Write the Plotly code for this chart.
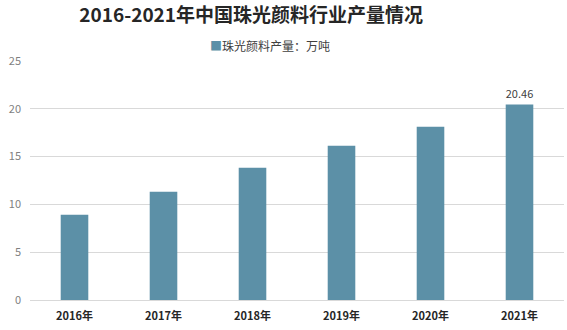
import plotly.graph_objects as go

categories = ["2016年", "2017年", "2018年", "2019年", "2020年", "2021年"]
values = [8.92, 11.33, 13.84, 16.14, 18.13, 20.46]
labels = ["", "", "", "", "", "20.46"]
series_name = "珠光颜料产量：万吨"
title_text = "2016-2021年中国珠光颜料行业产量情况"
bar_color = "#5C90A7"

fig = go.Figure()
fig.add_trace(go.Bar(
    x=categories, y=values, name=series_name,
    marker=dict(color=bar_color, line=dict(width=0)),
    width=0.31,
    text=labels, textposition="outside", cliponaxis=False,
    textfont=dict(family="Noto Sans CJK SC", size=11, color="#404040"),
    showlegend=False,
))

# legend row (swatch + label)
fig.add_annotation(
    xref="paper", yref="paper", x=0.449, y=1.065, xanchor="center", yanchor="middle",
    showarrow=False,
    text='<span style="color:%s">■</span>%s' % (bar_color, series_name),
    font=dict(family="Noto Sans CJK SC", size=12, color="#404040"),
)

fig.update_layout(
    width=567, height=330,
    margin=dict(l=30, r=3, t=61, b=30),
    paper_bgcolor="white", plot_bgcolor="white",
    title=dict(text="<b>" + title_text + "</b>", x=0.443, xanchor="center", y=0.955, yanchor="middle",
               font=dict(family="Noto Sans CJK SC", size=19, color="#262626")),
    xaxis=dict(showgrid=False, showline=False, ticks="", ticklabelstandoff=8,
               tickfont=dict(family="Noto Sans CJK SC", size=11, color="#262626", weight="bold")),
    yaxis=dict(range=[0, 25], dtick=5, showgrid=True, gridcolor="#D9D9D9", gridwidth=1,
               zeroline=True, zerolinecolor="#D9D9D9", zerolinewidth=1,
               showline=False, ticks="", ticklabelstandoff=8,
               tickfont=dict(family="Noto Sans CJK SC", size=11, color="#7F7F7F")),
    bargap=0.69,
)

fig.write_html("out.html")
